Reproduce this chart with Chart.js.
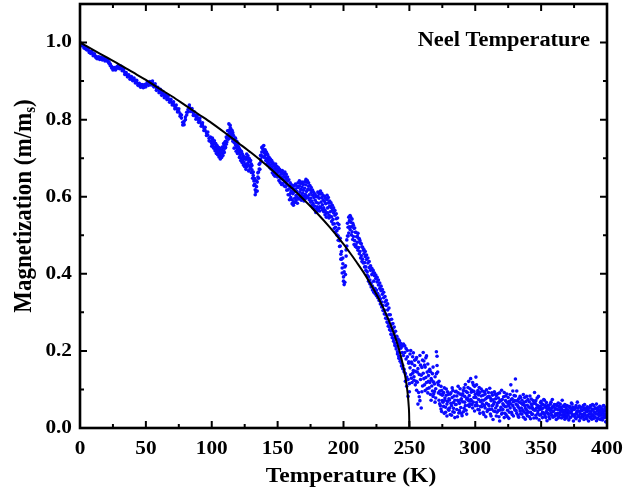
<!DOCTYPE html>
<html>
<head>
<meta charset="utf-8">
<script src="https://cdn.jsdelivr.net/npm/chart.js@4.4.1/dist/chart.umd.min.js"></script>
<style>
  html, body { margin: 0; padding: 0; background: #fff; }
  #wrap { width: 626px; height: 493px; }
</style>
</head>
<body>
<div id="wrap"><canvas id="neel" width="626" height="493"></canvas></div>
<script>
// measured magnetisation (m/ms) vs temperature (K).
// two readings (A and B) per temperature to give the band its width
const tempLow = [
  0,1,2,3,4,5,6,7,8,9,
  10,11,12,13,14,15,16,17,18,19,
  20,21,22,23,24,25,26,27,28,29,
  30,31,32,33,34,35,36,37,38,39,
  40,41,42,43,44,45,46,47,48,49,
  50,51,52,53,54,55,56,57,58,59,
  60,61,62,63,64,65,66,67,68,69,
  70,71,72,73,74,75,76,77,78,79,
  80,81,82,83,84,85,86,87,88,89,
  90,91,92,93,94,95,96,97,98,99,
  100
];
const magLowA = [
  1.000,0.997,0.993,0.990,0.988,0.985,0.981,0.978,0.976,0.973,
  0.970,0.968,0.964,0.962,0.960,0.962,0.959,0.960,0.957,0.958,
  0.955,0.956,0.950,0.944,0.938,0.933,0.930,0.934,0.937,0.936,
  0.938,0.935,0.933,0.928,0.922,0.918,0.915,0.912,0.910,0.908,
  0.906,0.904,0.900,0.897,0.893,0.890,0.888,0.886,0.888,0.885,
  0.890,0.892,0.895,0.893,0.897,0.894,0.890,0.888,0.882,0.878,
  0.876,0.872,0.870,0.866,0.864,0.860,0.858,0.855,0.851,0.847,
  0.843,0.839,0.834,0.830,0.826,0.821,0.815,0.804,0.793,0.787,
  0.800,0.812,0.826,0.832,0.828,0.822,0.818,0.812,0.808,0.805,
  0.800,0.797,0.790,0.785,0.779,0.772,0.766,0.760,0.752,0.744,
  0.738
];
const magLowB = [
  0.996,0.992,0.995,0.986,0.984,0.981,0.984,0.974,0.972,0.977,
  0.966,0.971,0.961,0.958,0.963,0.956,0.962,0.955,0.960,0.952,
  0.958,0.951,0.946,0.940,0.934,0.929,0.935,0.929,0.933,0.940,
  0.932,0.939,0.927,0.931,0.917,0.922,0.911,0.916,0.905,0.912,
  0.901,0.908,0.895,0.902,0.889,0.894,0.884,0.891,0.883,0.891,
  0.885,0.897,0.889,0.899,0.890,0.900,0.885,0.893,0.876,0.884,
  0.870,0.879,0.863,0.873,0.857,0.866,0.852,0.862,0.845,0.853,
  0.838,0.846,0.828,0.838,0.820,0.828,0.809,0.812,0.786,0.795,
  0.807,0.819,0.820,0.838,0.821,0.829,0.811,0.820,0.801,0.811,
  0.793,0.804,0.783,0.792,0.772,0.780,0.759,0.768,0.745,0.755,
  0.731
];

const tempMid = [
  100.5,101,101.5,102,102.5,103,103.5,104,104.5,105,
  105.5,106,106.5,107,107.5,108,108.5,109,109.5,110,
  110.5,111,111.5,112,112.5,113,113.5,114,114.5,115,
  115.5,116,116.5,117,117.5,118,118.5,119,119.5,120,
  120.5,121,121.5,122,122.5,123,123.5,124,124.5,125,
  125.5,126,126.5,127,127.5,128,128.5,129,129.5,130,
  130.5,131,131.5,132,132.5,133,133.5,134,134.5,135,
  135.5,136,136.5,137,137.5,138,138.5,139,139.5,140,
  140.5,141,141.5,142,142.5,143,143.5,144,144.5,145,
  145.5,146,146.5,147,147.5,148,148.5,149,149.5,150,
  150.5,151,151.5,152,152.5,153,153.5,154,154.5,155,
  155.5,156,156.5,157,157.5,158,158.5,159,159.5,160,
  160.5,161,161.5,162,162.5,163,163.5,164,164.5,165,
  165.5,166,166.5,167,167.5,168,168.5,169,169.5,170,
  170.5,171,171.5,172,172.5,173,173.5,174,174.5,175,
  175.5,176,176.5,177,177.5,178,178.5,179,179.5,180,
  180.5,181,181.5,182,182.5,183,183.5,184,184.5,185,
  185.5,186,186.5,187,187.5,188,188.5,189,189.5,190,
  190.5,191,191.5,192,192.5,193,193.5,194,194.5,195,
  195.5,196,196.5,197,197.5,198,198.5,199,199.5,200,
  200.5,201,201.5,202,202.5,203,203.5,204,204.5,205,
  205.5,206,206.5,207,207.5,208,208.5,209,209.5,210,
  210.5,211,211.5,212,212.5,213,213.5,214,214.5,215,
  215.5,216,216.5,217,217.5,218,218.5,219,219.5,220,
  220.5,221,221.5,222,222.5,223,223.5,224,224.5,225,
  225.5,226,226.5,227,227.5,228,228.5,229,229.5,230,
  230.5,231,231.5,232,232.5,233,233.5,234,234.5,235,
  235.5,236,236.5,237,237.5,238,238.5,239,239.5,240,
  240.5,241,241.5,242,242.5,243,243.5,244,244.5,245,
  245.5,246,246.5,247,247.5,248,248.5,249,249.5,250
];
const magMidA = [
  0.748,0.735,0.742,0.728,0.737,0.722,0.731,0.718,0.726,0.714,
  0.722,0.708,0.716,0.704,0.721,0.712,0.728,0.719,0.735,0.726,
  0.744,0.736,0.752,0.761,0.749,0.772,0.765,0.785,0.776,0.770,
  0.758,0.766,0.748,0.741,0.752,0.735,0.728,0.739,0.722,0.731,
  0.715,0.724,0.708,0.716,0.701,0.712,0.695,0.704,0.690,0.699,
  0.684,0.697,0.678,0.702,0.688,0.695,0.680,0.691,0.676,0.685,
  0.670,0.662,0.655,0.641,0.632,0.618,0.612,0.626,0.638,0.651,
  0.664,0.672,0.686,0.698,0.708,0.716,0.725,0.731,0.722,0.714,
  0.708,0.717,0.700,0.711,0.694,0.703,0.688,0.697,0.682,0.691,
  0.676,0.686,0.670,0.680,0.664,0.674,0.668,0.677,0.660,0.671,
  0.664,0.653,0.668,0.657,0.648,0.662,0.651,0.645,0.658,0.642,
  0.652,0.638,0.647,0.632,0.641,0.618,0.628,0.605,0.622,0.598,
  0.615,0.592,0.608,0.587,0.612,0.596,0.620,0.603,0.614,0.598,
  0.624,0.607,0.628,0.612,0.619,0.603,0.625,0.609,0.617,0.601,
  0.622,0.606,0.631,0.614,0.638,0.619,0.627,0.605,0.618,0.596,
  0.611,0.589,0.604,0.582,0.598,0.576,0.591,0.568,0.585,0.574,
  0.601,0.583,0.596,0.574,0.607,0.586,0.598,0.579,0.592,0.571,
  0.588,0.565,0.582,0.558,0.593,0.571,0.584,0.552,0.576,0.561,
  0.572,0.548,0.565,0.541,0.558,0.530,0.552,0.521,0.543,0.512,
  0.531,0.498,0.518,0.486,0.472,0.451,0.438,0.415,0.426,0.392,
  0.405,0.378,0.421,0.446,0.472,0.498,0.521,0.506,0.538,0.515,
  0.547,0.522,0.509,0.531,0.497,0.518,0.486,0.508,0.475,0.496,
  0.482,0.505,0.468,0.491,0.458,0.479,0.447,0.470,0.438,0.461,
  0.452,0.429,0.445,0.418,0.437,0.405,0.428,0.392,0.416,0.384,
  0.409,0.376,0.398,0.368,0.403,0.381,0.395,0.362,0.388,0.357,
  0.379,0.349,0.371,0.342,0.362,0.335,0.356,0.327,0.347,0.318,
  0.338,0.306,0.327,0.295,0.318,0.284,0.306,0.272,0.294,0.262,
  0.281,0.252,0.269,0.241,0.258,0.232,0.247,0.219,0.238,0.211,
  0.229,0.198,0.221,0.186,0.214,0.179,0.207,0.168,0.196,0.162,
  0.188,0.152,0.213,0.141,0.179,0.132,0.201,0.126,0.168,0.094
];
const magMidB = [
  0.752,0.741,0.726,0.745,0.719,0.738,0.712,0.733,0.709,0.728,
  0.703,0.726,0.698,0.715,0.702,0.729,0.707,0.738,0.715,0.742,
  0.728,0.755,0.742,0.771,0.758,0.789,0.754,0.778,0.761,0.752,
  0.772,0.744,0.759,0.726,0.747,0.752,0.718,0.744,0.712,0.738,
  0.728,0.702,0.721,0.694,0.718,0.689,0.709,0.682,0.703,0.678,
  0.702,0.671,0.711,0.684,0.706,0.667,0.699,0.672,0.694,0.663,
  0.681,0.648,0.664,0.629,0.647,0.605,0.628,0.641,0.615,0.662,
  0.648,0.684,0.671,0.707,0.692,0.728,0.704,0.718,0.733,0.702,
  0.722,0.694,0.715,0.686,0.709,0.681,0.702,0.676,0.698,0.672,
  0.694,0.662,0.688,0.657,0.682,0.653,0.685,0.659,0.678,0.651,
  0.676,0.642,0.671,0.637,0.666,0.632,0.668,0.634,0.661,0.628,
  0.664,0.626,0.658,0.617,0.651,0.605,0.644,0.592,0.636,0.611,
  0.631,0.582,0.624,0.578,0.629,0.585,0.633,0.590,0.628,0.583,
  0.636,0.594,0.641,0.598,0.634,0.591,0.638,0.596,0.632,0.589,
  0.639,0.595,0.645,0.601,0.642,0.598,0.636,0.592,0.629,0.586,
  0.624,0.578,0.617,0.571,0.611,0.566,0.606,0.559,0.600,0.562,
  0.612,0.569,0.608,0.563,0.615,0.572,0.609,0.566,0.603,0.561,
  0.601,0.553,0.596,0.547,0.604,0.558,0.598,0.545,0.589,0.549,
  0.584,0.536,0.578,0.529,0.571,0.518,0.564,0.509,0.556,0.501,
  0.545,0.487,0.528,0.471,0.492,0.438,0.458,0.402,0.441,0.381,
  0.372,0.418,0.398,0.462,0.488,0.531,0.498,0.547,0.522,0.551,
  0.534,0.501,0.542,0.489,0.526,0.476,0.519,0.471,0.508,0.468,
  0.498,0.461,0.492,0.452,0.486,0.441,0.478,0.432,0.469,0.428,
  0.463,0.418,0.458,0.409,0.449,0.396,0.441,0.381,0.432,0.374,
  0.421,0.366,0.414,0.358,0.409,0.352,0.402,0.348,0.397,0.343,
  0.391,0.338,0.384,0.331,0.376,0.322,0.368,0.314,0.359,0.305,
  0.352,0.296,0.341,0.285,0.331,0.275,0.322,0.264,0.311,0.255,
  0.294,0.243,0.282,0.234,0.271,0.225,0.262,0.214,0.251,0.205,
  0.238,0.192,0.231,0.181,0.226,0.173,0.219,0.161,0.212,0.154,
  0.218,0.146,0.196,0.121,0.206,0.108,0.185,0.082,0.172,0.115
];

const tempHigh = [
  250.5,251,251.5,252,252.5,253,253.5,254,254.5,255,
  255.5,256,256.5,257,257.5,258,258.5,259,259.5,260,
  260.5,261,261.5,262,262.5,263,263.5,264,264.5,265,
  265.5,266,266.5,267,267.5,268,268.5,269,269.5,270,
  270.5,271,271.5,272,272.5,273,273.5,274,274.5,275,
  275.5,276,276.5,277,277.5,278,278.5,279,279.5,280,
  280.5,281,281.5,282,282.5,283,283.5,284,284.5,285,
  285.5,286,286.5,287,287.5,288,288.5,289,289.5,290,
  290.5,291,291.5,292,292.5,293,293.5,294,294.5,295,
  295.5,296,296.5,297,297.5,298,298.5,299,299.5,300,
  300.5,301,301.5,302,302.5,303,303.5,304,304.5,305,
  305.5,306,306.5,307,307.5,308,308.5,309,309.5,310,
  310.5,311,311.5,312,312.5,313,313.5,314,314.5,315,
  315.5,316,316.5,317,317.5,318,318.5,319,319.5,320,
  320.5,321,321.5,322,322.5,323,323.5,324,324.5,325,
  325.5,326,326.5,327,327.5,328,328.5,329,329.5,330,
  330.5,331,331.5,332,332.5,333,333.5,334,334.5,335,
  335.5,336,336.5,337,337.5,338,338.5,339,339.5,340,
  340.5,341,341.5,342,342.5,343,343.5,344,344.5,345,
  345.5,346,346.5,347,347.5,348,348.5,349,349.5,350,
  350.5,351,351.5,352,352.5,353,353.5,354,354.5,355,
  355.5,356,356.5,357,357.5,358,358.5,359,359.5,360,
  360.5,361,361.5,362,362.5,363,363.5,364,364.5,365,
  365.5,366,366.5,367,367.5,368,368.5,369,369.5,370,
  370.5,371,371.5,372,372.5,373,373.5,374,374.5,375,
  375.5,376,376.5,377,377.5,378,378.5,379,379.5,380,
  380.5,381,381.5,382,382.5,383,383.5,384,384.5,385,
  385.5,386,386.5,387,387.5,388,388.5,389,389.5,390,
  390.5,391,391.5,392,392.5,393,393.5,394,394.5,395,
  395.5,396,396.5,397,397.5,398,398.5,399,399.5,400
];
const magHighA = [
  0.192,0.138,0.171,0.118,0.185,0.149,0.124,0.162,0.112,0.178,
  0.098,0.145,0.062,0.171,0.081,0.188,0.126,0.052,0.157,0.109,
  0.196,0.128,0.163,0.097,0.182,0.118,0.145,0.091,0.136,0.104,
  0.152,0.087,0.128,0.109,0.141,0.082,0.119,0.095,0.133,0.078,
  0.198,0.162,0.145,0.112,0.072,0.096,0.058,0.108,0.043,0.085,
  0.067,0.092,0.038,0.078,0.054,0.101,0.031,0.069,0.087,0.046,
  0.073,0.035,0.091,0.058,0.104,0.042,0.066,0.083,0.027,0.061,
  0.095,0.048,0.072,0.108,0.039,0.064,0.088,0.053,0.076,0.032,
  0.068,0.097,0.051,0.082,0.113,0.046,0.075,0.092,0.059,0.121,
  0.084,0.063,0.128,0.071,0.098,0.052,0.112,0.079,0.044,0.087,
  0.132,0.066,0.091,0.048,0.074,0.105,0.038,0.069,0.083,0.055,
  0.096,0.041,0.072,0.058,0.088,0.029,0.064,0.079,0.047,0.092,
  0.057,0.103,0.036,0.071,0.049,0.085,0.022,0.062,0.094,0.043,
  0.076,0.031,0.058,0.089,0.045,0.067,0.018,0.072,0.054,0.098,
  0.039,0.063,0.081,0.027,0.056,0.071,0.034,0.088,0.046,0.062,
  0.025,0.069,0.052,0.112,0.041,0.076,0.058,0.031,0.084,0.047,
  0.127,0.062,0.038,0.071,0.055,0.028,0.067,0.044,0.079,0.052,
  0.036,0.061,0.087,0.042,0.058,0.023,0.069,0.047,0.032,0.074,
  0.055,0.029,0.083,0.041,0.062,0.035,0.051,0.071,0.026,0.046,
  0.064,0.033,0.052,0.078,0.038,0.057,0.021,0.048,0.066,0.035,
  0.049,0.027,0.061,0.039,0.072,0.031,0.054,0.043,0.019,0.058,
  0.036,0.052,0.024,0.046,0.067,0.033,0.055,0.028,0.044,0.061,
  0.031,0.049,0.022,0.057,0.038,0.065,0.029,0.047,0.035,0.053,
  0.026,0.072,0.041,0.034,0.056,0.023,0.045,0.031,0.058,0.038,
  0.047,0.021,0.039,0.055,0.028,0.043,0.062,0.033,0.018,0.048,
  0.035,0.052,0.024,0.041,0.067,0.029,0.044,0.019,0.036,0.053,
  0.027,0.045,0.033,0.058,0.022,0.039,0.051,0.026,0.042,0.031,
  0.048,0.018,0.037,0.054,0.029,0.043,0.023,0.061,0.034,0.025,
  0.041,0.028,0.052,0.019,0.036,0.047,0.024,0.039,0.056,0.022,
  0.033,0.049,0.021,0.038,0.058,0.027,0.044,0.016,0.035,0.029
];
const magHighB = [
  0.156,0.201,0.129,0.167,0.142,0.195,0.133,0.176,0.147,0.121,
  0.183,0.119,0.154,0.092,0.139,0.071,0.163,0.137,0.094,0.176,
  0.142,0.174,0.112,0.158,0.131,0.187,0.102,0.166,0.121,0.149,
  0.118,0.146,0.072,0.124,0.096,0.158,0.089,0.114,0.067,0.102,
  0.141,0.186,0.118,0.091,0.121,0.063,0.088,0.049,0.097,0.071,
  0.089,0.056,0.104,0.072,0.041,0.085,0.062,0.094,0.048,0.076,
  0.052,0.088,0.064,0.033,0.079,0.097,0.051,0.041,0.072,0.094,
  0.061,0.083,0.029,0.091,0.068,0.045,0.102,0.073,0.038,0.085,
  0.089,0.042,0.104,0.067,0.058,0.095,0.036,0.078,0.105,0.071,
  0.056,0.102,0.074,0.093,0.061,0.118,0.067,0.095,0.108,0.058,
  0.079,0.112,0.058,0.097,0.086,0.047,0.092,0.056,0.101,0.072,
  0.063,0.085,0.035,0.094,0.052,0.076,0.099,0.043,0.081,0.061,
  0.082,0.048,0.077,0.031,0.091,0.058,0.073,0.044,0.067,0.088,
  0.052,0.084,0.041,0.065,0.078,0.029,0.091,0.047,0.071,0.036,
  0.074,0.048,0.059,0.092,0.038,0.083,0.055,0.067,0.029,0.079,
  0.058,0.041,0.087,0.063,0.074,0.035,0.096,0.068,0.052,0.071,
  0.083,0.045,0.096,0.059,0.032,0.076,0.051,0.082,0.037,0.064,
  0.072,0.045,0.028,0.066,0.079,0.051,0.038,0.082,0.059,0.042,
  0.041,0.068,0.052,0.024,0.075,0.057,0.036,0.048,0.064,0.092,
  0.047,0.071,0.026,0.059,0.044,0.082,0.052,0.033,0.056,0.069,
  0.063,0.041,0.052,0.074,0.036,0.058,0.027,0.066,0.049,0.038,
  0.058,0.029,0.047,0.062,0.039,0.051,0.074,0.042,0.056,0.031,
  0.052,0.037,0.061,0.034,0.048,0.026,0.056,0.039,0.062,0.044,
  0.049,0.033,0.057,0.046,0.029,0.061,0.038,0.052,0.027,0.045,
  0.033,0.056,0.042,0.027,0.051,0.065,0.036,0.048,0.054,0.031,
  0.049,0.027,0.058,0.036,0.044,0.052,0.031,0.057,0.043,0.026,
  0.046,0.035,0.054,0.029,0.048,0.061,0.033,0.047,0.024,0.055,
  0.032,0.052,0.044,0.027,0.058,0.036,0.049,0.031,0.047,0.058,
  0.029,0.051,0.037,0.062,0.044,0.025,0.053,0.032,0.045,0.038,
  0.052,0.026,0.043,0.057,0.031,0.048,0.037,0.054,0.028,0.046
];

// black fit curve
const fitT = [0,10,20,30,40,50,60,70,80,90,100,110,120,130,140,150,160,170,180,190,
  200,205,210,215,220,225,230,235,240,243,245,247,248,249,249.5,249.8,250];
const fitM = [1.000,0.981,0.962,0.943,0.923,0.903,0.881,0.860,0.837,0.814,0.791,0.766,0.740,0.714,0.686,0.656,0.625,0.592,0.557,0.519,
  0.477,0.454,0.430,0.405,0.377,0.347,0.313,0.274,0.228,0.193,0.165,0.131,0.109,0.079,0.057,0.038,0.000];

// axis ticks and labels
const xMajor = [0,50,100,150,200,250,300,350,400];
const xMinor = [25,75,125,175,225,275,325,375];
const xLabels = ['0','50','100','150','200','250','300','350','400'];
const yMajor = [0,0.2,0.4,0.6,0.8,1.0];
const yMinor = [0.1,0.3,0.5,0.7,0.9];
const yLabels = ['0.0','0.2','0.4','0.6','0.8','1.0'];

const xTitle = 'Temperature (K)';
const yTitleMain = 'Magnetization (m/m';
const yTitleSub = 's';
const yTitleEnd = ')';
const noteText = 'Neel Temperature';

const SERIF = '"Liberation Serif", "Times New Roman", "DejaVu Serif", serif';
const STRETCH = 1.12; // the figure is slightly wider than tall

function pairs(xs, ys) {
  return xs.map((t, i) => ({ x: t, y: ys[i] }));
}
const measured = [].concat(
  pairs(tempLow, magLowA), pairs(tempLow, magLowB),
  pairs(tempMid, magMidA), pairs(tempMid, magMidB),
  pairs(tempHigh, magHighA), pairs(tempHigh, magHighB)
);
const fitted = pairs(fitT, fitM);

function stretchedText(ctx, text, x, y, align, baseline, font) {
  ctx.save();
  ctx.translate(x, y);
  ctx.scale(STRETCH, 1);
  ctx.font = font;
  ctx.textAlign = align;
  ctx.textBaseline = baseline;
  ctx.fillText(text, 0, 0);
  ctx.restore();
}

const frameAndText = {
  id: 'frameAndText',
  afterDraw(chart) {
    const { ctx, chartArea: a } = chart;
    const x = chart.scales.x, y = chart.scales.y;
    ctx.save();
    ctx.strokeStyle = '#000';
    ctx.fillStyle = '#000';
    ctx.lineWidth = 2;
    ctx.beginPath();
    const xt = (v, len) => {
      const px = x.getPixelForValue(v);
      ctx.moveTo(px, a.bottom); ctx.lineTo(px, a.bottom - len);
      ctx.moveTo(px, a.top); ctx.lineTo(px, a.top + len);
    };
    const yt = (v, len) => {
      const py = y.getPixelForValue(v);
      ctx.moveTo(a.left, py); ctx.lineTo(a.left + len, py);
      ctx.moveTo(a.right, py); ctx.lineTo(a.right - len, py);
    };
    xMajor.forEach(v => xt(v, 7));
    xMinor.forEach(v => xt(v, 4));
    yMajor.forEach(v => yt(v, 7));
    yMinor.forEach(v => yt(v, 4));
    ctx.stroke();
    ctx.lineWidth = 2.6;
    ctx.strokeRect(a.left, a.top, a.right - a.left, a.bottom - a.top);

    const tickFont = 'bold 19px ' + SERIF;
    xMajor.forEach((v, i) => stretchedText(ctx, xLabels[i], x.getPixelForValue(v), 449, 'center', 'middle', tickFont));
    yMajor.forEach((v, i) => stretchedText(ctx, yLabels[i], 72, y.getPixelForValue(v), 'right', 'middle', tickFont));

    stretchedText(ctx, xTitle, 351, 482, 'center', 'alphabetic', 'bold 21px ' + SERIF);
    stretchedText(ctx, noteText, 590, 45.5, 'right', 'alphabetic', 'bold 20px ' + SERIF);

    // rotated y title with subscript s
    ctx.save();
    ctx.translate(31, 206);
    ctx.rotate(-Math.PI / 2);
    ctx.scale(1, STRETCH);
    ctx.textBaseline = 'alphabetic';
    ctx.textAlign = 'left';
    const mainFont = 'bold 23px ' + SERIF, subFont = 'bold 15px ' + SERIF;
    ctx.font = mainFont;
    const w1 = ctx.measureText(yTitleMain).width;
    const w3 = ctx.measureText(yTitleEnd).width;
    ctx.font = subFont;
    const w2 = ctx.measureText(yTitleSub).width;
    let sx = -(w1 + w2 + w3) / 2;
    ctx.font = mainFont;
    ctx.fillText(yTitleMain, sx, 0);
    ctx.font = subFont;
    ctx.fillText(yTitleSub, sx + w1, 4);
    ctx.font = mainFont;
    ctx.fillText(yTitleEnd, sx + w1 + w2, 0);
    ctx.restore();

    ctx.restore();
  }
};

new Chart(document.getElementById('neel'), {
  type: 'scatter',
  data: {
    datasets: [
      {
        label: 'Fit',
        data: fitted,
        showLine: true,
        borderColor: '#000',
        borderWidth: 2,
        pointRadius: 0,
        cubicInterpolationMode: 'monotone',
        fill: false
      },
      {
        label: 'Measured',
        data: measured,
        showLine: false,
        pointRadius: 1.8,
        pointBorderWidth: 0,
        pointBackgroundColor: 'rgb(10,10,255)',
        pointHoverRadius: 1.8
      }
    ]
  },
  options: {
    responsive: false,
    animation: false,
    events: [],
    layout: { padding: { top: 4, right: 19, left: 0, bottom: 0 } },
    plugins: { legend: { display: false }, tooltip: { enabled: false } },
    scales: {
      x: {
        type: 'linear', min: 0, max: 400,
        grid: { display: false, drawTicks: false },
        border: { display: false },
        ticks: { display: false, stepSize: 50 },
        afterFit: s => { s.height = 65; s.paddingLeft = 0; s.paddingRight = 0; }
      },
      y: {
        type: 'linear', min: 0, max: 1.1,
        grid: { display: false, drawTicks: false },
        border: { display: false },
        ticks: { display: false, stepSize: 0.2, includeBounds: false },
        afterFit: s => { s.width = 80; s.paddingTop = 0; s.paddingBottom = 0; }
      }
    }
  },
  plugins: [frameAndText]
});
</script>
</body>
</html>
